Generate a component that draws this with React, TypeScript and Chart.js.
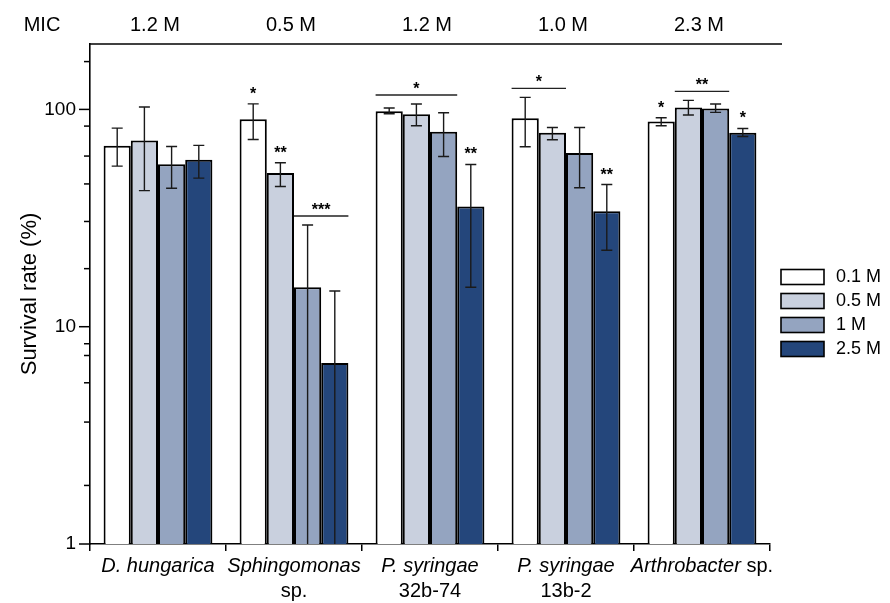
import React, { useEffect, useRef } from 'react';
import { Chart, registerables } from 'chart.js';
Chart.register(...registerables);

const FONT = '"Liberation Sans", Arial, Helvetica, sans-serif';

// ---- data ----
const categories = ['D. hungarica', 'Sphingomonas sp.', 'P. syringae 32b-74', 'P. syringae 13b-2', 'Arthrobacter sp.'];
const xLabelLines: [string, boolean][][][] = [
  [[['D. hungarica', true]]],
  [[['Sphingomonas', true]], [['sp.', false]]],
  [[['P. syringae', true]], [['32b-74', false]]],
  [[['P. syringae', true]], [['13b-2', false]]],
  [[['Arthrobacter', true], [' sp.', false]]],
];
const micValues = ['1.2 M', '0.5 M', '1.2 M', '1.0 M', '2.3 M'];
const seriesLabels = ['0.1 M', '0.5 M', '1 M', '2.5 M'];
const seriesColors = ['#ffffff', '#c9d0de', '#94a4c0', '#24467b'];

const survival01 = [68, 90, 98, 91, 88];
const survival05 = [72, 51, 95, 78, 102];
const survival1 = [56, 15.2, 79, 63, 101];
const survival25 = [58.6, 6.8, 35.7, 34, 78];

const errHigh01 = [82, 106, 101.5, 113.6, 91.6];
const errHigh05 = [102.6, 56.8, 105.9, 82.6, 110];
const errHigh1 = [67.5, 29.4, 96.6, 82.6, 105.9];
const errHigh25 = [68.3, 14.6, 55.8, 45.1, 81.7];

const errLow01 = [54.8, 72.7, 95.5, 67.3, 84.1];
const errLow05 = [42.3, 44.2, 84.1, 72.5, 94.2];
const errLow1 = [43.4, 0.5, 60.7, 43.6, 96.9];
const errLow25 = [48.3, 0.5, 15.2, 22.5, 75.1];

const yTickValues = [1, 1.86, 3.64, 5.52, 7.37, 8.35, 10, 18.5, 30.5, 45.4, 61, 83.8, 100, 166];
const yMajorTicks = [1, 10, 100];

// significance marks: group, series, text
const singleMarks = [
  { g: 1, s: 0, text: '*' },
  { g: 1, s: 1, text: '**' },
  { g: 2, s: 3, text: '**' },
  { g: 3, s: 3, text: '**' },
  { g: 4, s: 0, text: '*' },
  { g: 4, s: 3, text: '*' },
];
const bracketMarks = [
  { g: 1, from: 2, to: 3, text: '***' },
  { g: 2, from: 0, to: 2, text: '*' },
  { g: 3, from: 0, to: 1, text: '*' },
  { g: 4, from: 1, to: 2, text: '**' },
];

const seriesValues = [survival01, survival05, survival1, survival25];
const errHigh = [errHigh01, errHigh05, errHigh1, errHigh25];
const errLow = [errLow01, errLow05, errLow1, errLow25];

const overlay = {
  id: 'overlay',
  afterDatasetsDraw(chart: any) {
    const ctx = chart.ctx;
    const { left, right, top, bottom } = chart.chartArea;
    const ys = chart.scales.y;
    ctx.save();
    ctx.beginPath();
    ctx.rect(left, top - 5, right - left, bottom - top + 5);
    ctx.clip();
    ctx.strokeStyle = '#1a1a1a';
    ctx.lineWidth = 1.4;
    seriesValues.forEach((_, i) => {
      const meta = chart.getDatasetMeta(i);
      meta.data.forEach((el: any, j: number) => {
        const x = el.x;
        const yt = ys.getPixelForValue(errHigh[i][j]);
        const yb = ys.getPixelForValue(errLow[i][j]);
        ctx.beginPath();
        ctx.moveTo(x, yt);
        ctx.lineTo(x, yb);
        const cw = 5.5;
        if (yt >= top && yt <= bottom) { ctx.moveTo(x - cw, yt); ctx.lineTo(x + cw, yt); }
        if (yb >= top && yb <= bottom) { ctx.moveTo(x - cw, yb); ctx.lineTo(x + cw, yb); }
        ctx.stroke();
      });
    });
    ctx.restore();

    // significance
    ctx.save();
    ctx.fillStyle = '#000';
    ctx.font = `bold 16px ${FONT}`;
    ctx.textAlign = 'center';
    ctx.textBaseline = 'alphabetic';
    singleMarks.forEach((m) => {
      const el = chart.getDatasetMeta(m.s).data[m.g];
      const yt = ys.getPixelForValue(errHigh[m.s][m.g]);
      ctx.fillText(m.text, el.x, yt - 15 + 10);
    });
    ctx.strokeStyle = '#222';
    ctx.lineWidth = 1.4;
    bracketMarks.forEach((b) => {
      let minY = Infinity;
      for (let s = b.from; s <= b.to; s++) {
        minY = Math.min(minY, ys.getPixelForValue(errHigh[s][b.g]));
      }
      const e1: any = chart.getDatasetMeta(b.from).data[b.g];
      const e2: any = chart.getDatasetMeta(b.to).data[b.g];
      const x1 = e1.x - e1.width / 2;
      const x2 = e2.x + e2.width / 2;
      const ly = minY - 9;
      ctx.beginPath();
      ctx.moveTo(x1, ly);
      ctx.lineTo(x2, ly);
      ctx.stroke();
      ctx.fillText(b.text, (x1 + x2) / 2, ly - 11 + 10);
    });
    ctx.restore();
  },
  afterDraw(chart: any) {
    const ctx = chart.ctx;
    const { left, right, top, bottom } = chart.chartArea;
    const ys = chart.scales.y;
    const xs = chart.scales.x;
    ctx.save();
    // top line
    ctx.strokeStyle = '#000';
    ctx.lineWidth = 1.6;
    ctx.beginPath();
    ctx.moveTo(left - 0.75, top);
    ctx.lineTo(right + 12, top);
    ctx.stroke();
    // y ticks
    ctx.lineWidth = 1.5;
    ys.ticks.forEach((t: any) => {
      const py = ys.getPixelForValue(t.value);
      const len = yMajorTicks.includes(t.value) ? 11 : 6;
      ctx.beginPath();
      ctx.moveTo(left - len, py);
      ctx.lineTo(left, py);
      ctx.stroke();
    });
    // MIC row
    ctx.fillStyle = '#000';
    ctx.font = `20px ${FONT}`;
    ctx.textAlign = 'center';
    ctx.textBaseline = 'middle';
    ctx.fillText('MIC', 42, 25);
    micValues.forEach((m, i) => {
      ctx.fillText(m, xs.getPixelForValue(i) - 3, 25);
    });
    // x labels
    ctx.textAlign = 'left';
    xLabelLines.forEach((lines, i) => {
      const cx = xs.getPixelForValue(i);
      lines.forEach((segs, li) => {
        let w = 0;
        segs.forEach(([txt, it]) => {
          ctx.font = `${it ? 'italic ' : ''}20px ${FONT}`;
          w += ctx.measureText(txt).width;
        });
        let x = cx - w / 2;
        const y = bottom + 22 + li * 25;
        segs.forEach(([txt, it]) => {
          ctx.font = `${it ? 'italic ' : ''}20px ${FONT}`;
          ctx.fillText(txt, x, y);
          x += ctx.measureText(txt).width;
        });
      });
    });
    // legend
    ctx.font = `18px ${FONT}`;
    ctx.textBaseline = 'middle';
    seriesLabels.forEach((lab, i) => {
      const cy = 277 + i * 24;
      ctx.fillStyle = seriesColors[i];
      ctx.fillRect(781, cy - 7.5, 43, 15);
      ctx.strokeStyle = '#000';
      ctx.lineWidth = 1.6;
      ctx.strokeRect(781, cy - 7.5, 43, 15);
      ctx.fillStyle = '#000';
      ctx.fillText(lab, 836, cy);
    });
    ctx.restore();
  },
};

export default function App() {
  const ref = useRef<HTMLCanvasElement>(null);
  useEffect(() => {
    const chart = new Chart(ref.current!, {
      type: 'bar',
      data: {
        labels: categories,
        datasets: seriesValues.map((vals, i) => ({
          label: seriesLabels[i],
          data: vals,
          backgroundColor: seriesColors[i],
          borderColor: '#000',
          borderWidth: 2,
          categoryPercentage: 0.8,
          barPercentage: 1.0,
        })),
      },
      options: {
        animation: false,
        responsive: true,
        maintainAspectRatio: false,
        layout: { padding: { top: 44, right: 120, left: 0, bottom: 0 } },
        plugins: { legend: { display: false }, tooltip: { enabled: false } },
        scales: {
          x: {
            type: 'category',
            grid: { display: true, drawOnChartArea: false, offset: true, tickLength: 7, color: '#000', lineWidth: 1.5 },
            border: { display: true, color: '#000', width: 1.6 },
            ticks: { display: false },
            afterFit: (s: any) => { s.height = 59; },
          },
          y: {
            type: 'logarithmic',
            min: 1,
            max: 200,
            afterBuildTicks: (s: any) => { s.ticks = yTickValues.map((v) => ({ value: v })); },
            grid: { display: false, drawTicks: false },
            border: { display: true, color: '#000', width: 1.6 },
            ticks: {
              autoSkip: false,
              padding: 14,
              color: '#000',
              font: { family: FONT, size: 19 },
              callback: (v: any) => (yMajorTicks.includes(Number(v)) ? String(v) : ''),
            },
            title: {
              display: true,
              text: 'Survival rate (%)',
              color: '#000',
              font: { family: FONT, size: 22 },
              padding: { top: 17, bottom: 0 },
            },
            afterFit: (s: any) => { s.width = 90; },
          },
        },
      },
      plugins: [overlay],
    });
    return () => chart.destroy();
  }, []);
  return (
    <div style={{ position: 'fixed', left: 0, top: 0, width: 890, height: 603, background: '#fff' }}>
      <canvas ref={ref} />
    </div>
  );
}
